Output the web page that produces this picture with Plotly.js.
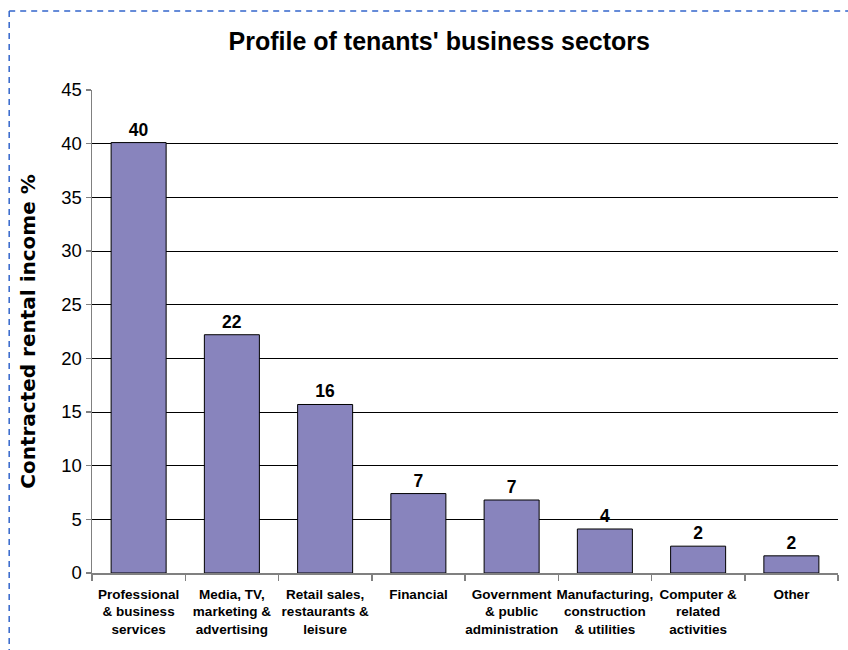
<!DOCTYPE html>
<html>
<head>
<meta charset="utf-8">
<script src="https://cdn.plot.ly/plotly-3.0.1.min.js"></script>
<style>
html,body{margin:0;padding:0;background:#fff;}
#chart{width:848px;height:650px;}
</style>
</head>
<body>
<div id="chart"></div>
<script>
const categories = [
  "Professional<br>& business<br>services",
  "Media, TV,<br>marketing &<br>advertising",
  "Retail sales,<br>restaurants &<br>leisure",
  "Financial",
  "Government<br>& public<br>administration",
  "Manufacturing,<br>construction<br>& utilities",
  "Computer &<br>related<br>activities",
  "Other"
];
const values = [40.1, 22.2, 15.7, 7.4, 6.8, 4.1, 2.5, 1.6];
const valueLabels = ["40", "22", "16", "7", "7", "4", "2", "2"];
const yTicks = [0, 5, 10, 15, 20, 25, 30, 35, 40, 45];

const sans = "'Liberation Sans', Arial, sans-serif";
const wide = "'DejaVu Sans', 'Liberation Sans', Arial, sans-serif";

const trace = {
  type: 'bar',
  x: categories,
  y: values,
  text: valueLabels,
  texttemplate: '<b>%{text}</b>',
  textposition: 'outside',
  cliponaxis: false,
  textfont: {family: sans, size: 17.5, color: '#000'},
  marker: {color: '#8884BD', line: {color: '#000', width: 1}},
  hoverinfo: 'none'
};

const layout = {
  width: 848, height: 650,
  margin: {l: 92, r: 10, t: 90, b: 77},
  paper_bgcolor: '#fff', plot_bgcolor: '#fff',
  showlegend: false,
  bargap: 0.41,
  title: {
    text: "<b>Profile of tenants' business sectors</b>",
    font: {family: sans, size: 25, color: '#000'},
    x: 0.518, xref: 'container', xanchor: 'center',
    y: 0.936, yref: 'container', yanchor: 'middle'
  },
  xaxis: {
    type: 'category',
    showline: true, linecolor: '#808080', linewidth: 1.5,
    ticks: 'outside', tickson: 'boundaries', ticklen: 6, tickcolor: '#808080', tickwidth: 1.5,
    tickangle: 0,
    ticklabelstandoff: 8,
    tickfont: {family: sans, size: 13.5, color: '#000'},
    tickprefix: '<b>', ticksuffix: '</b>',
    showgrid: false,
    fixedrange: true,
    automargin: false
  },
  yaxis: {
    range: [0, 45],
    tickvals: yTicks,
    ticktext: yTicks.map(String),
    showline: true, linecolor: '#808080', linewidth: 1.5,
    ticks: 'outside', ticklen: 5, tickcolor: '#808080', tickwidth: 1.5,
    tickfont: {family: sans, size: 18.5, color: '#000'},
    showgrid: true, gridcolor: '#000', gridwidth: 1,
    zeroline: false,
    automargin: false,
    title: {
      text: '<b>Contracted rental income %</b>',
      font: {family: wide, size: 20, color: '#000'},
      standoff: 20
    }
  },
  shapes: [
    {type: 'line', xref: 'paper', yref: 'paper', x0: -0.111, x1: 1.02, y0: 1.1636, y1: 1.1636,
     line: {color: '#3366CC', width: 1.5, dash: '6px,5px'}},
    {type: 'line', xref: 'paper', yref: 'paper', x0: -0.111, x1: -0.111, y0: 1.1636, y1: -0.2,
     line: {color: '#3366CC', width: 1.5, dash: '6px,5px'}}
  ]
};

Plotly.newPlot('chart', [trace], layout, {displayModeBar: false, staticPlot: true});
</script>
</body>
</html>
